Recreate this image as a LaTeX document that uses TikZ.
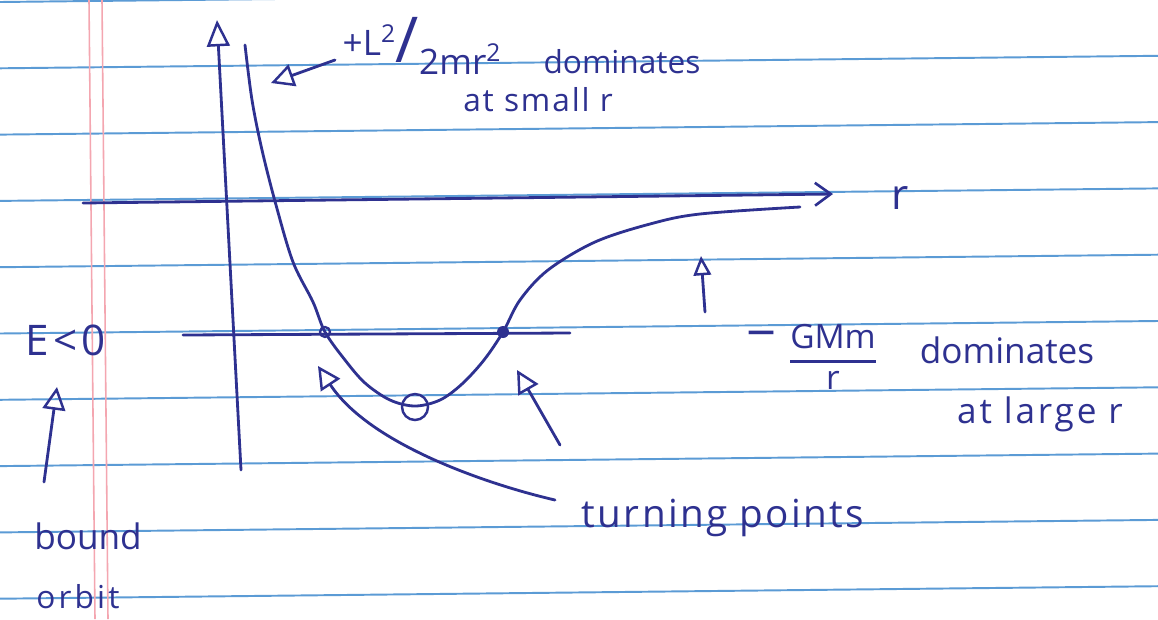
\documentclass[tikz,border=0pt]{standalone}
\usepackage{fontspec}
\setmainfont{Open Sans}
\usepackage{amsmath}
\usetikzlibrary{arrows.meta}
\definecolor{ink}{HTML}{2E3190}
\definecolor{paperline}{HTML}{5B9BD5}
\definecolor{marginred}{HTML}{F4A6B0}
\tikzset{
  pen/.style={draw=ink, line width=1.6pt, line cap=round, line join=round},
  hand/.style={text=ink, inner sep=0pt},
  opentip/.style={-{Triangle[open, length=13pt, width=13pt, line width=1.4pt]}},
  smalltip/.style={-{Triangle[open, length=11pt, width=10pt, line width=1.4pt]}},
  rule/.style={draw=paperline, line width=1.1pt},
  margin/.style={draw=marginred, line width=0.9pt},
}
\begin{document}
\begin{tikzpicture}[x=0.02cm,y=-0.02cm]
\useasboundingbox (0,0) rectangle (1158,619);
\fill[white] (0,0) rectangle (1158,619);
% lined paper
\begin{scope}
  \clip (0,0) rectangle (1158,619);
  \foreach \k in {0,...,9} \draw[rule] (0,{2+66.3*\k}) -- (1158,{2+66.3*\k-12.5});
  \draw[margin] (89,0) -- (95,619);
  \draw[margin] (102,0) -- (108,619);
\end{scope}

% axes
\coordinate (vbot) at (241,470);
\coordinate (vtop) at (217,20);
\draw[pen, -{Triangle[open, length=15pt, width=13pt, line width=1.4pt]}] (vbot) -- (vtop);
\coordinate (rstart) at (83,203);
\coordinate (rend) at (833,194);
\draw[pen, -{Straight Barb[length=9pt, width=13pt, line width=1.5pt]}] (rstart) -- (rend);
\node[hand, font=\fontsize{24}{24}\selectfont] (rlab) at (900,198) {r};

% energy level
\coordinate (estart) at (183,335);
\coordinate (eend) at (570,333);
\draw[pen] (estart) -- (eend);

% effective potential
\draw[pen] plot[smooth, tension=0.55] coordinates {(245,45) (252,100) (262,150) (276,205) (293,262) (313,302) (325,332) (345,360) (365,383) (390,400) (415,406) (440,400) (462,384) (484,360) (503,332) (520,300) (548,270) (595,242) (650,224) (700,214) (800,207)};

% turning points and minimum
\coordinate (tpL) at (325,332);
\coordinate (tpR) at (503,332);
\coordinate (minpt) at (415,407);
\draw[ink, line width=1.3pt] (tpL) circle (5);
\fill[ink] (tpR) circle (6);
\draw[ink, line width=1.4pt] (minpt) circle (13);

% labels
\node[hand] (Lterm) at (422,46) {\fontsize{20}{20}\selectfont +L\textsuperscript{2}\raisebox{-0.2em}{\fontsize{36}{36}\selectfont/}\raisebox{-0.55em}{2mr\textsuperscript{2}}};
\node[hand, font=\fontsize{18}{18}\selectfont] (dom1) at (622,62) {dominates};
\node[hand, font=\fontsize{18}{18}\selectfont\addfontfeature{LetterSpace=6}] (small) at (538,100) {at small r};

\node[hand, font=\fontsize{30}{30}\selectfont] (minus) at (762,341) {−};
\node[hand, font=\fontsize{19}{19}\selectfont] (gmm) at (833,357) {$\genfrac{}{}{1.3pt}{0}{\text{GMm}}{\text{r}}$};
\node[hand, font=\fontsize{20}{20}\selectfont] (dom2) at (1007,350) {dominates};
\node[hand, font=\fontsize{20}{20}\selectfont\addfontfeature{LetterSpace=8}] (large) at (1040,414) {at large r};

\node[hand, font=\fontsize{24}{24}\selectfont\addfontfeature{LetterSpace=10}] (Elab) at (66,340) {E<0};
\node[hand, font=\fontsize{20}{20}\selectfont] (bound) at (88,536) {bound};
\node[hand, font=\fontsize{18}{18}\selectfont\addfontfeature{LetterSpace=10}] (orbit) at (78,597) {orbit};
\node[hand, font=\fontsize{22}{22}\selectfont\addfontfeature{LetterSpace=6}] (turn) at (723,518) {turning points};

% annotation arrows
\coordinate (smallarrowtip) at (271,83);
\draw[pen, opentip] (335,60) -- (smallarrowtip);
\coordinate (largetail) at (705,312);
\draw[pen, smalltip] (largetail) -- (701,256);
\coordinate (boundtail) at (44,482);
\draw[pen, opentip] (boundtail) -- (57,387);
\coordinate (turnL) at (555,500);
\coordinate (tipL) at (318,366);
\draw[pen, opentip] (turnL) .. controls (490,485) and (370,445) .. (tipL);
\coordinate (turnR) at (560,445);
\coordinate (tipR) at (517,370);
\draw[pen, opentip] (turnR) -- (tipR);
\end{tikzpicture}
\end{document}
